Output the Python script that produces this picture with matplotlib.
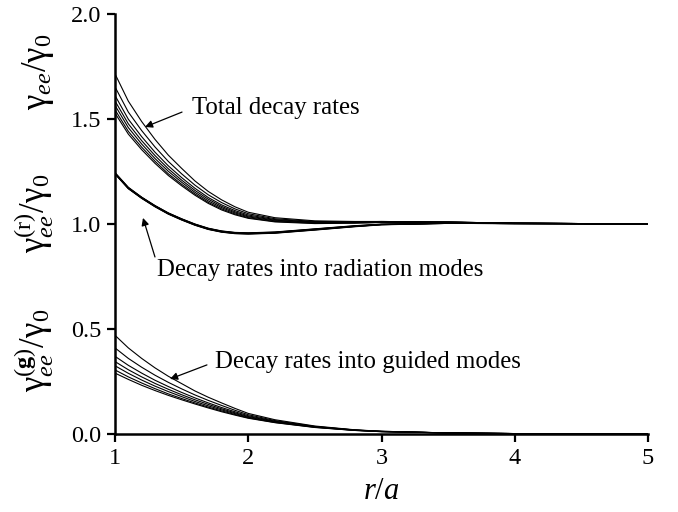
import numpy as np
import matplotlib
matplotlib.use('Agg')
import matplotlib.pyplot as plt

plt.rcParams['font.family'] = ['Liberation Serif', 'DejaVu Serif']
plt.rcParams['mathtext.fontset'] = 'custom'
plt.rcParams['mathtext.rm'] = 'Liberation Serif'
plt.rcParams['mathtext.it'] = 'Liberation Serif:italic'
plt.rcParams['mathtext.bf'] = 'Liberation Serif:bold'

# r/a sample points
r = [1.0, 1.1, 1.2, 1.3, 1.4, 1.5, 1.6, 1.7, 1.8, 1.9, 2.0, 2.2, 2.5, 2.8, 3.0, 3.5, 4.0, 4.5, 5.0]

# decay rates into guided modes
guided = [
    [0.470, 0.410, 0.360, 0.315, 0.275, 0.240, 0.205, 0.175, 0.148, 0.122, 0.098, 0.068, 0.038, 0.020, 0.013, 0.005, 0.002, 0.001, 0.000],
    [0.410, 0.360, 0.318, 0.280, 0.246, 0.215, 0.186, 0.160, 0.136, 0.113, 0.092, 0.064, 0.036, 0.019, 0.013, 0.005, 0.002, 0.001, 0.000],
    [0.370, 0.327, 0.290, 0.256, 0.226, 0.198, 0.172, 0.148, 0.126, 0.106, 0.087, 0.061, 0.035, 0.019, 0.012, 0.005, 0.002, 0.001, 0.000],
    [0.345, 0.306, 0.272, 0.241, 0.213, 0.187, 0.163, 0.141, 0.120, 0.101, 0.083, 0.059, 0.034, 0.018, 0.012, 0.005, 0.002, 0.001, 0.000],
    [0.325, 0.289, 0.257, 0.228, 0.202, 0.178, 0.155, 0.134, 0.115, 0.097, 0.080, 0.057, 0.033, 0.018, 0.012, 0.005, 0.002, 0.001, 0.000],
    [0.305, 0.272, 0.243, 0.216, 0.191, 0.169, 0.148, 0.128, 0.110, 0.093, 0.077, 0.055, 0.032, 0.017, 0.011, 0.005, 0.002, 0.001, 0.000],
    [0.290, 0.260, 0.232, 0.207, 0.184, 0.163, 0.143, 0.124, 0.106, 0.090, 0.075, 0.054, 0.031, 0.017, 0.011, 0.005, 0.002, 0.001, 0.000],
]

# decay rates into radiation modes
radiation = [
    [1.245, 1.175, 1.128, 1.088, 1.053, 1.025, 1.000, 0.980, 0.967, 0.960, 0.958, 0.962, 0.977, 0.992, 0.999, 1.004, 1.002, 1.001, 1.000],
    [1.243, 1.173, 1.127, 1.087, 1.052, 1.024, 0.999, 0.979, 0.966, 0.959, 0.957, 0.961, 0.976, 0.991, 0.999, 1.004, 1.002, 1.001, 1.000],
    [1.242, 1.172, 1.126, 1.086, 1.051, 1.023, 0.998, 0.978, 0.965, 0.958, 0.956, 0.960, 0.975, 0.990, 0.998, 1.004, 1.002, 1.001, 1.000],
    [1.241, 1.171, 1.125, 1.085, 1.050, 1.022, 0.997, 0.977, 0.964, 0.957, 0.955, 0.959, 0.974, 0.989, 0.998, 1.004, 1.002, 1.001, 1.000],
    [1.240, 1.170, 1.124, 1.084, 1.049, 1.021, 0.996, 0.976, 0.963, 0.956, 0.954, 0.958, 0.973, 0.989, 0.997, 1.003, 1.002, 1.001, 1.000],
    [1.239, 1.169, 1.123, 1.083, 1.048, 1.020, 0.995, 0.975, 0.962, 0.955, 0.953, 0.957, 0.972, 0.988, 0.997, 1.003, 1.002, 1.001, 1.000],
    [1.238, 1.168, 1.122, 1.082, 1.047, 1.019, 0.994, 0.974, 0.961, 0.954, 0.952, 0.956, 0.971, 0.987, 0.996, 1.003, 1.002, 1.001, 1.000],
]

# total decay rates
total = [
    [1.715, 1.585, 1.488, 1.403, 1.328, 1.265, 1.205, 1.155, 1.115, 1.082, 1.056, 1.030, 1.015, 1.012, 1.012, 1.009, 1.004, 1.002, 1.000],
    [1.653, 1.533, 1.445, 1.367, 1.298, 1.239, 1.185, 1.139, 1.102, 1.072, 1.049, 1.025, 1.012, 1.010, 1.012, 1.009, 1.004, 1.002, 1.000],
    [1.612, 1.499, 1.416, 1.342, 1.277, 1.221, 1.170, 1.126, 1.091, 1.064, 1.043, 1.021, 1.010, 1.009, 1.010, 1.009, 1.004, 1.002, 1.000],
    [1.586, 1.477, 1.397, 1.326, 1.263, 1.209, 1.160, 1.118, 1.084, 1.058, 1.038, 1.018, 1.008, 1.007, 1.010, 1.009, 1.004, 1.002, 1.000],
    [1.565, 1.459, 1.381, 1.312, 1.251, 1.199, 1.151, 1.110, 1.078, 1.053, 1.034, 1.015, 1.006, 1.007, 1.009, 1.008, 1.004, 1.002, 1.000],
    [1.544, 1.441, 1.366, 1.299, 1.239, 1.189, 1.143, 1.103, 1.072, 1.048, 1.030, 1.012, 1.004, 1.005, 1.008, 1.008, 1.004, 1.002, 1.000],
    [1.528, 1.428, 1.354, 1.289, 1.231, 1.182, 1.137, 1.098, 1.067, 1.044, 1.027, 1.010, 1.002, 1.004, 1.007, 1.008, 1.004, 1.002, 1.000],
]

xticks = [1, 2, 3, 4, 5]
yticks = [0.0, 0.5, 1.0, 1.5, 2.0]

fig = plt.figure(figsize=(6.78, 5.12), dpi=100)
ax = fig.add_axes([115 / 678, 1 - 434 / 512, 533 / 678, 420 / 512])

for curve in total + radiation + guided:
    ax.plot(r, curve, color='black', lw=0.8)

ax.set_xlim(1, 5)
ax.set_ylim(0, 2)
ax.set_xticks(xticks)
ax.set_xticklabels([str(t) for t in xticks])
ax.set_yticks(yticks)
ax.set_yticklabels(['%.1f' % t for t in yticks])
ax.spines['top'].set_visible(False)
ax.spines['right'].set_visible(False)
ax.spines['left'].set_linewidth(1.8)
ax.spines['bottom'].set_linewidth(1.8)
ax.tick_params(direction='out', length=6, width=1.6, labelsize=17.5, pad=4)

ax.set_xlabel('$\\it{r/a}$', fontsize=22, labelpad=6)

# stacked y-axis labels
fig.text(56 / 678, 1 - 72 / 512, r'$\mathrm{\gamma}_{ee}/\mathrm{\gamma}_0$',
         rotation=90, ha='right', va='center', fontsize=25)
fig.text(56 / 678, 1 - 213 / 512, r'$\mathrm{\gamma}_{ee}^{(\mathrm{r})}/\mathrm{\gamma}_0$',
         rotation=90, ha='right', va='center', fontsize=25)
fig.text(56 / 678, 1 - 350 / 512, r'$\mathrm{\gamma}_{ee}^{(\mathbf{g})}/\mathrm{\gamma}_0$',
         rotation=90, ha='right', va='center', fontsize=25)

arrow = dict(arrowstyle='-|>', lw=0.9, color='black', mutation_scale=11, shrinkA=0, shrinkB=0)

ax.annotate('', xy=(1.225, 1.462), xytext=(1.503, 1.533), arrowprops=arrow)
ax.text(1.58, 1.552, 'Total decay rates', fontsize=17.8, ha='left', va='center')

ax.annotate('', xy=(1.21, 1.029), xytext=(1.30, 0.843), arrowprops=arrow)
ax.text(1.315, 0.78, 'Decay rates into radiation modes', fontsize=17.8, ha='left', va='center')

ax.annotate('', xy=(1.413, 0.262), xytext=(1.69, 0.329), arrowprops=arrow)
ax.text(1.75, 0.343, 'Decay rates into guided modes', fontsize=17.8, ha='left', va='center')

fig.savefig('out.png', dpi=100)
